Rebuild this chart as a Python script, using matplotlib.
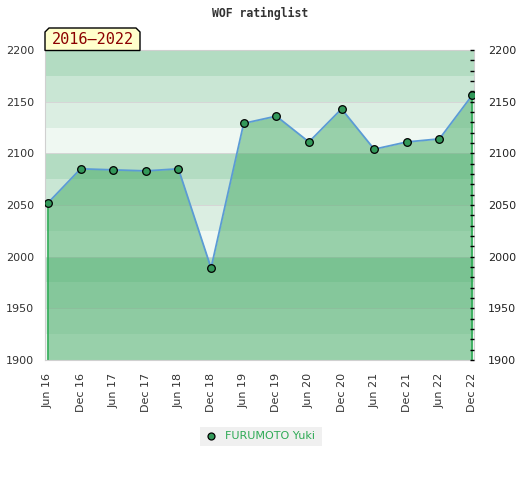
import matplotlib.pyplot as plt
from matplotlib.patches import Polygon, Rectangle
from matplotlib.ticker import MultipleLocator

# data
dates = ["Jun 16", "Dec 16", "Jun 17", "Dec 17", "Jun 18", "Dec 18", "Jun 19",
         "Dec 19", "Jun 20", "Dec 20", "Jun 21", "Dec 21", "Jun 22", "Dec 22"]
ratings = [2052, 2085, 2084, 2083, 2085, 1989, 2129,
           2136, 2111, 2143, 2104, 2111, 2114, 2156]
player = "FURUMOTO Yuki"
period = "2016\u20132022"
y_min, y_max = 1900, 2200

band_cols = ["#b3dcc2", "#c9e6d4", "#dbeee2", "#eff8f2"]  # top of each 100 block downwards

fig = plt.figure(figsize=(5.2, 4.8), dpi=100)
ax = fig.add_axes([45 / 520, 1 - 360 / 480, 429 / 520, 310 / 480])

# background bands, 25 points each
lo = y_max
i = 0
while lo > y_min:
    ax.axhspan(lo - 25, lo, color=band_cols[i % 4], lw=0, zorder=0)
    lo -= 25
    i += 1
for g in range(y_min, y_max + 1, 50):
    ax.axhline(g, color="#d6d6d6", lw=0.7, zorder=0.5)

x = list(range(len(ratings)))
ax.fill_between(x, ratings, y_min, color="#43aa64", alpha=0.5, lw=0, zorder=1)
ax.vlines([x[0], x[-1]], y_min, [ratings[0], ratings[-1]], color="#2eaa55", lw=1.2, zorder=2)
ax.plot(x, ratings, color="#5b9bd5", lw=1.3, zorder=3)
ax.plot(x, ratings, "o", ms=5.5, mfc="#33995a", mec="black", mew=0.9, zorder=4)

ax.set_xlim(-0.09, len(x) - 1 + 0.06)
ax.set_ylim(y_min, y_max)
ax.set_xticks(x)
ax.set_xticklabels(dates, rotation=90, fontsize=8, color="#333333")
ax.yaxis.set_major_locator(MultipleLocator(50))
ax.tick_params(axis="y", length=0, labelsize=8, labelcolor="#333333", pad=8)
ax.tick_params(axis="x", length=0, pad=9)
for s in ax.spines.values():
    s.set_color("#d0d0d0")

ax2 = ax.twinx()
ax2.set_ylim(y_min, y_max)
ax2.yaxis.set_major_locator(MultipleLocator(50))
ax2.yaxis.set_minor_locator(MultipleLocator(10))
ax2.tick_params(axis="y", which="both", direction="in", length=3, width=1, color="black",
                labelsize=8, labelcolor="#222222", pad=10)
for s in ax2.spines.values():
    s.set_visible(False)

fig.text(0.5, 1 - 13 / 480, "WOF ratinglist", ha="center", va="center",
         family="DejaVu Sans Mono", fontweight="bold", fontsize=8.3, color="#333333")

# period badge with clipped top corners
bx0, bx1, by0, by1 = 45, 140, 50.5, 28
c = 4
pts = [(bx0, by0), (bx0, by1 + c), (bx0 + c, by1), (bx1 - c, by1), (bx1, by1 + c), (bx1, by0)]
pts = [(px / 520, 1 - py / 480) for px, py in pts]
fig.patches.append(Polygon(pts, closed=True, transform=fig.transFigure,
                           facecolor="#ffffcc", edgecolor="black", lw=1, zorder=5))
fig.text((bx0 + bx1) / 2 / 520, 1 - 40 / 480, period, ha="center", va="center",
         family="DejaVu Sans Mono", fontsize=11, color="#8b0000", zorder=6)

# legend box
fig.patches.append(Rectangle((200 / 520, 1 - 446 / 480), 122 / 520, 19 / 480,
                             transform=fig.transFigure, facecolor="#f0f0f0", lw=0))
fig.add_artist(plt.Line2D([211 / 520], [1 - 436 / 480], marker="o", ms=5,
                          mfc="#33995a", mec="black", mew=0.9, transform=fig.transFigure))
fig.text(225 / 520, 1 - 436 / 480, player, ha="left", va="center",
         fontsize=8, color="#2eaa55")

fig.savefig("out.png", dpi=100)
